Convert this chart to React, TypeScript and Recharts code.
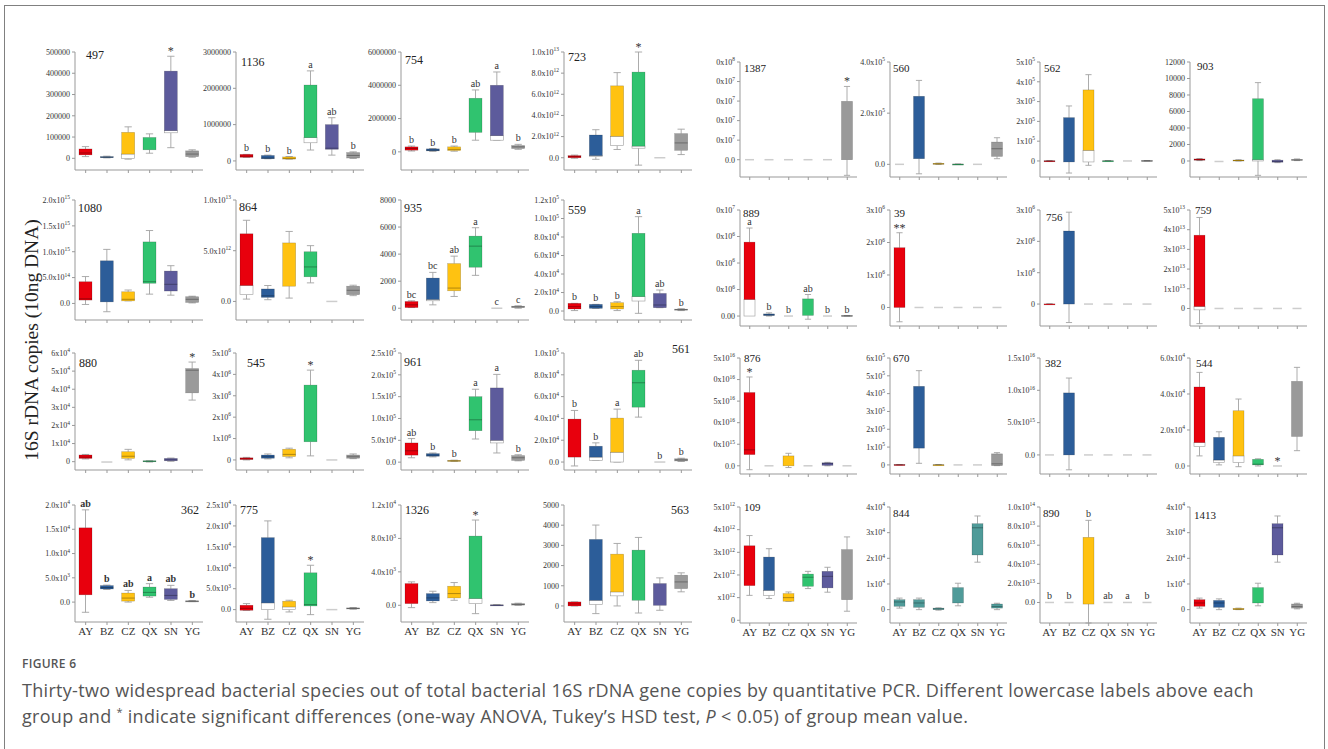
import React from 'react';
import { BarChart, Bar, XAxis, YAxis } from 'recharts';

const SERIF = '"Liberation Serif", "Times New Roman", serif';
const GROUPS = ['AY', 'BZ', 'CZ', 'QX', 'SN', 'YG'];
const GROUP_COLORS = ['#e8000d', '#2c5d99', '#ffc211', '#30c36f', '#5d5b9c', '#9a9a9a'];
const TEAL = '#4f9b99';
const Z = [0, 0, 0, 0, 0];

// each box: [min, q1, median, q3, max]; hollow = groups whose q1..median part is white
// ---- left block, row 1
const box497 = [[8e3, 16e3, 25e3, 44e3, 55e3], [2e3, 3e3, 5e3, 8e3, 1e4], [-4e3, -1e3, 2e4, 1.22e5, 1.48e5], [2.4e4, 4e4, 4e4, 9.8e4, 1.15e5], [5e4, 1.2e5, 1.3e5, 4.1e5, 4.8e5], [5e3, 8e3, 2e4, 3.5e4, 4e4]];
const sig497 = ['', '', '', '', '*', ''];
const ho497 = [2, 4];
const ax497 = { floor: -5.5e4, ticks: [0, 1e5, 2e5, 3e5, 4e5, 5e5], labels: ['0', '100000', '200000', '300000', '400000', '500000'] };

const box1136 = [[1e5, 1e5, 1.3e5, 1.8e5, 1.8e5], [6e4, 6e4, 8e4, 1.5e5, 1.6e5], [5e4, 5e4, 7e4, 1.1e5, 1.2e5], [3e5, 5e5, 6.4e5, 2.09e6, 2.48e6], [1.6e5, 3.2e5, 3.5e5, 1.0e6, 1.19e6], [7e4, 8e4, 1.5e5, 2.3e5, 2.5e5]];
const sig1136 = ['b', 'b', 'b', 'a', 'ab', 'b'];
const ho1136 = [3];
const ax1136 = { floor: -2.5e5, ticks: [0, 1e6, 2e6, 3e6], labels: ['0', '1000000', '2000000', '3000000'] };

const box754 = [[5e4, 1e5, 2e5, 3e5, 3.5e5], [3e4, 6e4, 1e5, 1.8e5, 2e5], [4e4, 8e4, 1.5e5, 3e5, 3.5e5], [7e5, 1.17e6, 1.17e6, 3.22e6, 3.72e6], [7e5, 7e5, 9.7e5, 4.0e6, 4.8e6], [1.5e5, 2e5, 3e5, 3.8e5, 4.5e5]];
const sig754 = ['b', 'b', 'b', 'ab', 'a', 'b'];
const ho754 = [4];
const ax754 = { floor: -1.09e6, ticks: [0, 2e6, 4e6, 6e6], labels: ['0', '2000000', '4000000', '6000000'] };

const box723 = [[-5e10, 0, 1e11, 2e11, 2.5e11], [-1.5e11, 1e11, 2e11, 2.15e12, 2.65e12], [7.8e11, 1.15e12, 2.03e12, 6.8e12, 8.05e12], [-7e11, 9e11, 1.1e12, 8.1e12, 1.0e13], Z, [3e11, 7e11, 1.4e12, 2.28e12, 2.7e12]];
const sig723 = ['', '', '', '*', '', ''];
const ho723 = [1, 2, 3];
const ax723 = { floor: -1.16e12, ticks: [0, 2e12, 4e12, 6e12, 8e12, 1e13], labels: ['0.0', '2.0x10^12', '4.0x10^12', '6.0x10^12', '8.0x10^12', '1.0x10^13'] };

// ---- right block, row 1
const box1387 = [Z, Z, Z, Z, Z, [-1.6e7, 0, 0, 5.97e7, 7.5e7]];
const sig1387 = ['', '', '', '', '', '*'];
const ho1387: number[] = [];
const ax1387 = { floor: -1.77e7, ticks: [0, 2e7, 4e7, 6e7, 8e7, 1e8], labels: ['0.0', '0x10^7', '0x10^7', '0x10^7', '0x10^7', '0x10^8'] };

const box560 = [Z, [-3.7e4, 2.2e4, 2.2e4, 2.66e5, 3.28e5], [0, 1e3, 2e3, 4e3, 5e3], [0, 0, 500, 1e3, 1e3], Z, [2.2e4, 3.1e4, 6.1e4, 8.7e4, 1.04e5]];
const sig560 = ['', '', '', '', '', ''];
const ho560: number[] = [];
const ax560 = { floor: -4.95e4, ticks: [0, 2e5, 4e5], labels: ['0.0', '2.0x10^5', '4.0x10^5'] };

const box562 = [[-2e3, -1e3, 0, 1e3, 2e3], [-6.1e4, -5e3, -5e3, 2.19e5, 2.78e5], [-2.2e4, -5e3, 5.4e4, 3.59e5, 4.36e5], [0, 0, 500, 1e3, 1e3], Z, [0, 0, 1e3, 2e3, 2e3]];
const sig562 = ['', '', '', '', '', ''];
const ho562 = [2];
const ax562 = { floor: -8.1e4, ticks: [0, 1e5, 2e5, 3e5, 4e5, 5e5], labels: ['0', '1x10^5', '2x10^5', '3x10^5', '4x10^5', '5x10^5'] };

const box903 = [[50, 100, 150, 250, 300], [-60, -60, -60, -60, -60], [0, 20, 50, 120, 150], [-1740, 0, 150, 7550, 9500], [-200, -150, -50, 100, 150], [50, 80, 120, 200, 250]];
const sig903 = ['', '', '', '', '', ''];
const ho903 = [3];
const ax903 = { floor: -1940, ticks: [0, 2000, 4000, 6000, 8000, 10000, 12000], labels: ['0', '2000', '4000', '6000', '8000', '10000', '12000'] };

// ---- left block, row 2
const box1080 = [[-2e13, 6.5e13, 9e13, 4.2e14, 5.2e14], [-1.6e14, 3e13, 3e13, 8.25e14, 1.045e15], [5e13, 5e13, 8e13, 2.26e14, 2.6e14], [1.8e14, 3.9e14, 4.2e14, 1.19e15, 1.41e15], [1.6e14, 2.4e14, 3.7e14, 6.26e14, 7.3e14], [1e13, 2e13, 8e13, 1.3e14, 1.4e14]];
const sig1080 = ['', '', '', '', '', ''];
const ho1080: number[] = [];
const ax1080 = { floor: -3.2e14, ticks: [0, 5e14, 1e15, 1.5e15, 2e15], labels: ['0.0', '5.0x10^14', '1.0x10^15', '1.5x10^15', '2.0x10^15'] };

const box864 = [[2.3e11, 6.7e11, 1.57e12, 6.67e12, 8.0e12], [1.7e11, 4e11, 5.5e11, 1.23e12, 1.57e12], [3.3e11, 1.5e12, 1.5e12, 5.77e12, 6.9e12], [1.83e12, 2.43e12, 3.4e12, 4.9e12, 5.5e12], Z, [5.7e11, 6.7e11, 1.1e12, 1.5e12, 1.6e12]];
const sig864 = ['', '', '', '', '', ''];
const ho864 = [0];
const ax864 = { floor: -1.83e12, ticks: [0, 5e12, 1e13], labels: ['0.0', '5.0x10^12', '1.0x10^13'] };

const box935 = [[50, 50, 250, 500, 550], [250, 550, 650, 2230, 2650], [870, 1290, 1490, 3300, 3850], [2430, 3030, 4590, 5330, 5950], Z, [0, 50, 100, 150, 180]];
const sig935 = ['bc', 'bc', 'ab', 'a', 'c', 'c'];
const ho935 = [1];
const ax935 = { floor: -870, ticks: [0, 2000, 4000, 6000, 8000], labels: ['0', '2000', '4000', '6000', '8000'] };

const box559 = [[500, 2200, 4700, 8300, 8300], [2900, 2900, 4700, 7200, 7200], [500, 2200, 4700, 9000, 1e4], [-2500, 1.08e4, 1.55e4, 8.4e4, 1.02e5], [3600, 3600, 6500, 1.9e4, 2.27e4], [500, 1000, 1500, 2000, 2500]];
const sig559 = ['b', 'b', 'b', 'a', 'ab', 'b'];
const ho559 = [3];
const ax559 = { floor: -9700, ticks: [0, 2e4, 4e4, 6e4, 8e4, 1e5, 1.2e5], labels: ['0.0', '2.0x10^4', '4.0x10^4', '6.0x10^4', '8.0x10^4', '1.0x10^5', '1.2x10^5'] };

// ---- right block, row 2
const box889 = [[3e5, 0, 1.56e6, 6.97e6, 8.3e6], [0, 5e4, 1e5, 2e5, 3e5], Z, [-3e5, 6e4, 6e4, 1.62e6, 2.03e6], Z, [0, 0, 2e4, 5e4, 5e4]];
const sig889 = ['a', 'b', 'b', 'ab', 'b', 'b'];
const ho889 = [0];
const ax889 = { floor: -9.4e5, ticks: [0, 2.5e6, 5e6, 7.5e6, 1e7], labels: ['0.00', '0x10^6', '0x10^6', '0x10^6', '0x10^7'] };

const box39 = [[-4.4e5, 0, 0, 1.84e6, 2.3e6], Z, Z, Z, Z, Z];
const sig39 = ['**', '', '', '', '', ''];
const ho39: number[] = [];
const ax39 = { floor: -5.7e5, ticks: [0, 1e6, 2e6, 3e6], labels: ['0', '1x10^6', '2x10^6', '3x10^6'] };

const box756 = [[0, 0, 0, 6e3, 6e3], [-5.9e5, 0, 0, 2.33e6, 2.93e6], Z, Z, Z, Z];
const sig756 = ['', '', '', '', '', ''];
const ho756: number[] = [];
const ax756 = { floor: -7e5, ticks: [0, 1e6, 2e6, 3e6], labels: ['0', '1x10^6', '2x10^6', '3x10^6'] };

const box759 = [[-7.7e12, -7e11, 1e12, 3.72e13, 4.62e13], Z, Z, Z, Z, Z];
const sig759 = ['', '', '', '', '', ''];
const ho759 = [0];
const ax759 = { floor: -8.9e12, ticks: [0, 1e13, 2e13, 3e13, 4e13, 5e13], labels: ['0', '1x10^13', '2x10^13', '3x10^13', '4x10^13', '5x10^13'] };

// ---- left block, row 3
const box880 = [[1.5e3, 1.8e3, 2.5e3, 3.7e3, 4e3], [-200, -200, -200, -200, -200], [1e3, 1.8e3, 3e3, 5.5e3, 6.8e3], [-200, 0, 200, 500, 500], [200, 500, 1e3, 1.8e3, 2e3], [3.4e4, 3.8e4, 5.05e4, 5.14e4, 5.5e4]];
const sig880 = ['', '', '', '', '', '*'];
const ho880: number[] = [];
const ax880 = { floor: -4600, ticks: [0, 1e4, 2e4, 3e4, 4e4, 5e4, 6e4], labels: ['0', '1x10^4', '2x10^4', '3x10^4', '4x10^4', '5x10^4', '6x10^4'] };

const box545 = [[0, 2e4, 5e4, 1e5, 1.2e5], [5e4, 8e4, 1.5e5, 2.3e5, 2.8e5], [1e5, 1.6e5, 2.6e5, 5e5, 5.5e5], [1.9e5, 8.5e5, 8.5e5, 3.5e6, 4.2e6], Z, [6e4, 8e4, 1.5e5, 2.3e5, 2.8e5]];
const sig545 = ['', '', '', '*', '', ''];
const ho545: number[] = [];
const ax545 = { floor: -4.7e5, ticks: [0, 1e6, 2e6, 3e6, 4e6, 5e6], labels: ['0', '1x10^6', '2x10^6', '3x10^6', '4x10^6', '5x10^6'] };

const box961 = [[1e4, 1.6e4, 2.6e4, 4.4e4, 5.4e4], [1.2e4, 1.35e4, 1.6e4, 1.95e4, 2.1e4], [2e3, 2.5e3, 3e3, 4e3, 4.5e3], [5.3e4, 7.2e4, 9.7e4, 1.5e5, 1.67e5], [2.1e4, 4.4e4, 5e4, 1.7e5, 2.01e5], [3e3, 4e3, 1e4, 1.5e4, 1.7e4]];
const sig961 = ['ab', 'b', 'b', 'a', 'a', 'b'];
const ho961 = [4];
const ax961 = { floor: -1.8e4, ticks: [0, 5e4, 1e5, 1.5e5, 2e5, 2.5e5], labels: ['0.0', '5.0x10^4', '1.0x10^5', '1.5x10^5', '2.0x10^5', '2.5x10^5'] };

const box561 = [[-3.6e3, 4.5e3, 4.5e3, 3.94e4, 4.73e4], [1.5e3, 1.5e3, 4.5e3, 1.45e4, 1.76e4], [0, 0, 9e3, 4.03e4, 4.85e4], [4.12e4, 5.03e4, 7.27e4, 8.42e4, 9.33e4], Z, [500, 1e3, 2e3, 3e3, 3.5e3]];
const sig561 = ['b', 'b', 'a', 'ab', 'b', 'b'];
const ho561 = [1, 2];
const ax561 = { floor: -7.3e3, ticks: [0, 2e4, 4e4, 6e4, 8e4, 1e5], labels: ['0.0', '2.0x10^4', '4.0x10^4', '6.0x10^4', '8.0x10^4', '1.0x10^5'] };

// ---- right block, row 3
const box876 = [[-9e14, 2.6e15, 3.7e15, 1.7e16, 2.06e16], Z, [-4e14, 0, 0, 2.3e15, 2.9e15], Z, [0, 1e14, 5e14, 7e14, 8e14], Z];
const sig876 = ['*', '', '', '', '', ''];
const ho876: number[] = [];
const ax876 = { floor: -1.9e15, ticks: [0, 5e15, 1e16, 1.5e16, 2e16, 2.5e16], labels: ['0.0', '0x10^15', '0x10^16', '5x10^16', '0x10^16', '5x10^16'] };

const box670 = [[0, 0, 1e3, 2e3, 2e3], [9e3, 9.4e4, 9.4e4, 4.41e5, 5.29e5], [0, 0, 500, 1e3, 1e3], Z, Z, [-4e3, -4e3, 6e3, 6.2e4, 6.9e4]];
const sig670 = ['', '', '', '', '', ''];
const ho670: number[] = [];
const ax670 = { floor: -5.1e4, ticks: [0, 1e5, 2e5, 3e5, 4e5, 5e5, 6e5], labels: ['0', '1x10^5', '2x10^5', '3x10^5', '4x10^5', '5x10^5', '6x10^5'] };

const box382 = [Z, [-2.3e15, 0, 0, 9.6e15, 1.19e16], Z, Z, Z, Z];
const sig382 = ['', '', '', '', '', ''];
const ho382: number[] = [];
const ax382 = { floor: -2.95e15, ticks: [0, 5e15, 1e16, 1.5e16], labels: ['0.0', '5.0x10^15', '1.0x10^16', '1.5x10^16'] };

const box544 = [[5.6e3, 1.08e4, 1.3e4, 4.39e4, 5.2e4], [600, 2e3, 3.3e3, 1.59e4, 1.9e4], [-400, 2e3, 5.6e3, 3.07e4, 3.72e4], [0, 600, 1e3, 3.7e3, 4e3], Z, [8.5e3, 1.64e4, 1.64e4, 4.7e4, 5.48e4]];
const sig544 = ['', '', '', '', '*', ''];
const ho544 = [0, 1, 2];
const ax544 = { floor: -4460, ticks: [0, 2e4, 4e4, 6e4], labels: ['0.0', '2.0x10^4', '4.0x10^4', '6.0x10^4'] };

// ---- left block, row 4
const box362 = [[-2.1e3, 1.5e3, 1.5e3, 1.53e4, 1.9e4], [2.6e3, 2.7e3, 3.0e3, 3.4e3, 3.5e3], [0, 200, 830, 1860, 2400], [1e3, 1.24e3, 2e3, 3.1e3, 3.8e3], [340, 550, 1380, 2760, 3450], [100, 150, 200, 250, 300]];
const sig362 = ['ab', 'b', 'ab', 'a', 'ab', 'b'];
const ho362: number[] = [];
const ax362 = { floor: -4100, ticks: [0, 5e3, 1e4, 1.5e4, 2e4], labels: ['0.0', '5.0x10^3', '1.0x10^4', '1.5x10^4', '2.0x10^4'] };

const box775 = [[-160, -160, 300, 1040, 1440], [-2.3e3, 0, 1.6e3, 1.72e4, 2.12e4], [-560, 0, 640, 2000, 2240], [-1.2e3, 880, 1200, 8800, 1.06e4], Z, [100, 200, 300, 400, 500]];
const sig775 = ['', '', '', '*', '', ''];
const ho775 = [1, 2];
const ax775 = { floor: -2960, ticks: [0, 5e3, 1e4, 1.5e4, 2e4, 2.5e4], labels: ['0.0', '5.0x10^3', '1.0x10^4', '1.5x10^4', '2.0x10^4', '2.5x10^4'] };

const box1326 = [[-280, 200, 200, 2600, 2800], [320, 520, 880, 1400, 1680], [600, 880, 1400, 2280, 2720], [-1000, 200, 800, 8280, 1.02e4], [0, 0, 30, 50, 50], [0, 20, 100, 200, 250]];
const sig1326 = ['', '', '', '*', '', ''];
const ho1326 = [3];
const ax1326 = { floor: -2000, ticks: [0, 4e3, 8e3, 1.2e4], labels: ['0.0', '4.0x10^3', '8.0x10^3', '1.2x10^4'] };

const box563 = [[0, 0, 100, 200, 200], [-380, 80, 280, 3295, 4006], [0, 500, 695, 2565, 3096], [-350, 280, 280, 2765, 3394], [-215, 30, 30, 1110, 1390], [700, 860, 1190, 1523, 1640]];
const sig563 = ['', '', '', '', '', ''];
const ho563 = [1, 2];
const ax563 = { floor: -795, ticks: [0, 1000, 2000, 3000, 4000, 5000], labels: ['0', '1000', '2000', '3000', '4000', '5000'] };

// ---- right block, row 4
const box109 = [[1.1e12, 1.53e12, 1.53e12, 3.29e12, 3.74e12], [9.6e11, 1.1e12, 1.32e12, 2.79e12, 3.16e12], [8.4e11, 8.4e11, 1.0e12, 1.18e12, 1.25e12], [1.4e12, 1.5e12, 1.9e12, 2.04e12, 2.16e12], [1.24e12, 1.43e12, 1.94e12, 2.16e12, 2.34e12], [4e11, 9.1e11, 9.1e11, 3.12e12, 3.68e12]];
const sig109 = ['', '', '', '', '', ''];
const ho109 = [1];
const ax109 = { floor: -1.2e11, ticks: [0, 1e12, 2e12, 3e12, 4e12, 5e12], labels: ['0', 'x10^12', '2x10^12', '3x10^12', '4x10^12', '5x10^12'] };

const box844 = [[600, 1300, 3000, 3900, 4500], [0, 900, 2600, 3900, 4500], [-200, 0, 300, 600, 700], [1500, 2600, 2600, 8600, 1.03e4], [1.85e4, 2.13e4, 3.19e4, 3.35e4, 3.65e4], [0, 600, 1200, 2200, 2500]];
const sig844 = ['', '', '', '', '', ''];
const ho844: number[] = [];
const ax844 = { floor: -5200, ticks: [0, 1e4, 2e4, 3e4, 4e4], labels: ['0', '1x10^4', '2x10^4', '3x10^4', '4x10^4'] };

const box890 = [Z, Z, [-2.15e13, -1.7e12, -1.7e12, 6.82e13, 8.6e13], Z, Z, Z];
const sig890 = ['b', 'b', 'b', 'ab', 'a', 'b'];
const ho890: number[] = [];
const ax890 = { floor: -2.15e13, ticks: [0, 2e13, 4e13, 6e13, 8e13, 1e14], labels: ['0.0', '2.0x10^13', '4.0x10^13', '6.0x10^13', '8.0x10^13', '1.0x10^14'] };

const box1413 = [[600, 1300, 2600, 3900, 4500], [0, 900, 2600, 3600, 4200], [0, 0, 200, 500, 600], [1500, 2600, 2600, 8600, 1.03e4], [1.85e4, 2.13e4, 3.19e4, 3.35e4, 3.65e4], [300, 600, 1200, 2200, 2500]];
const sig1413 = ['', '', '', '', '', ''];
const ho1413: number[] = [];
const ax1413 = { floor: -5200, ticks: [0, 1e4, 2e4, 3e4, 4e4], labels: ['0', '1x10^4', '2x10^4', '3x10^4', '4x10^4'] };

const PANELS: Record<string, any> = {
  '497': { box: box497, sig: sig497, hollow: ho497, ax: ax497 },
  '1136': { box: box1136, sig: sig1136, hollow: ho1136, ax: ax1136 },
  '754': { box: box754, sig: sig754, hollow: ho754, ax: ax754 },
  '723': { box: box723, sig: sig723, hollow: ho723, ax: ax723 },
  '1387': { box: box1387, sig: sig1387, hollow: ho1387, ax: ax1387 },
  '560': { box: box560, sig: sig560, hollow: ho560, ax: ax560 },
  '562': { box: box562, sig: sig562, hollow: ho562, ax: ax562 },
  '903': { box: box903, sig: sig903, hollow: ho903, ax: ax903 },
  '1080': { box: box1080, sig: sig1080, hollow: ho1080, ax: ax1080 },
  '864': { box: box864, sig: sig864, hollow: ho864, ax: ax864 },
  '935': { box: box935, sig: sig935, hollow: ho935, ax: ax935 },
  '559': { box: box559, sig: sig559, hollow: ho559, ax: ax559 },
  '889': { box: box889, sig: sig889, hollow: ho889, ax: ax889 },
  '39': { box: box39, sig: sig39, hollow: ho39, ax: ax39 },
  '756': { box: box756, sig: sig756, hollow: ho756, ax: ax756 },
  '759': { box: box759, sig: sig759, hollow: ho759, ax: ax759 },
  '880': { box: box880, sig: sig880, hollow: ho880, ax: ax880 },
  '545': { box: box545, sig: sig545, hollow: ho545, ax: ax545 },
  '961': { box: box961, sig: sig961, hollow: ho961, ax: ax961 },
  '561': { box: box561, sig: sig561, hollow: ho561, ax: ax561 },
  '876': { box: box876, sig: sig876, hollow: ho876, ax: ax876 },
  '670': { box: box670, sig: sig670, hollow: ho670, ax: ax670 },
  '382': { box: box382, sig: sig382, hollow: ho382, ax: ax382 },
  '544': { box: box544, sig: sig544, hollow: ho544, ax: ax544 },
  '362': { box: box362, sig: sig362, hollow: ho362, ax: ax362, bold: true },
  '775': { box: box775, sig: sig775, hollow: ho775, ax: ax775 },
  '1326': { box: box1326, sig: sig1326, hollow: ho1326, ax: ax1326 },
  '563': { box: box563, sig: sig563, hollow: ho563, ax: ax563 },
  '109': { box: box109, sig: sig109, hollow: ho109, ax: ax109 },
  '844': { box: box844, sig: sig844, hollow: ho844, ax: ax844, colors: GROUPS.map(() => TEAL) },
  '890': { box: box890, sig: sig890, hollow: ho890, ax: ax890 },
  '1413': { box: box1413, sig: sig1413, hollow: ho1413, ax: ax1413 },
};

// layout
const GRID_L = [['497', '1136', '754', '723'], ['1080', '864', '935', '559'], ['880', '545', '961', '561'], ['362', '775', '1326', '563']];
const GRID_R = [['1387', '560', '562', '903'], ['889', '39', '756', '759'], ['876', '670', '382', '544'], ['109', '844', '890', '1413']];
const LEFT_X = [75, 236, 401, 564];
const RIGHT_X = [740, 890, 1040, 1190];
const ROWS_L = [[52, 170], [200, 320], [353, 470], [505, 622]];
const ROWS_R = [[62, 177], [210, 326], [358, 474], [507, 623]];
// [dx from axis (negative = from right edge), dy of label centre from plot top]
const ID_POS: Record<string, number[]> = {
  '497': [11, 3], '1136': [5, 10], '754': [4, 8], '723': [4, 5],
  '1387': [4, 6], '560': [3, 6], '562': [4, 6], '903': [7, 4],
  '1080': [3, 8], '864': [3, 7], '935': [3, 8], '559': [4, 10],
  '889': [3, 3], '39': [4, 3], '756': [6, 7], '759': [5, 0],
  '880': [4, 10], '545': [11, 10], '961': [3, 9], '561': [-2, -4],
  '876': [4, 0], '670': [3, 0], '382': [5, 5], '544': [6, 5],
  '362': [-4, 5], '775': [4, 5], '1326': [4, 5], '563': [-3, 5],
  '109': [4, 0], '844': [3, 6], '890': [3, 6], '1413': [4, 8],
};

const SupText = ({ x, y, s, size = 8 }: any) => {
  const [b, e] = String(s).split('^');
  return (
    <text x={x} y={y} dy="0.35em" textAnchor="end" fontFamily={SERIF} fontSize={size} fill="#333">
      <tspan>{b}</tspan>
      {e ? <tspan dy={-3.5} fontSize={size * 0.68}>{e}</tspan> : null}
    </text>
  );
};

const YTick = (props: any) => {
  const { x, y, payload, ax } = props;
  let i = ax.ticks.indexOf(payload.value);
  if (i < 0) {
    let best = Infinity;
    ax.ticks.forEach((t: number, j: number) => {
      const d = Math.abs(t - payload.value);
      if (d < best) { best = d; i = j; }
    });
  }
  return <SupText x={x} y={y} s={ax.labels[i]} />;
};

const BoxShape = (props: any) => {
  const { x, y, width, height, payload } = props;
  if (x == null || y == null || !payload) return null;
  const [mn, q1, md, q3, mx] = payload.box;
  const lo = Math.min(...payload.box);
  const hi = Math.max(...payload.box);
  const top = Math.min(y, y + (height || 0));
  const h = Math.abs(height || 0);
  const cx = x + width / 2;
  const sig = payload.sig;
  const star = sig && sig.includes('*');
  const sigEl = sig ? (
    <text x={cx} y={star ? top - 1 : top - 3} textAnchor="middle" fontSize={star ? 12 : 10}
      fontWeight={payload.bold ? 700 : 400} fontFamily={SERIF} fill="#333">{sig}</text>
  ) : null;
  if (hi === lo) {
    return (
      <g>
        <line x1={x + 1} x2={x + width - 1} y1={top} y2={top} stroke="#cdcdcd" strokeWidth={1.5} />
        {sigEl}
      </g>
    );
  }
  const k = h / (hi - lo);
  const py = (v: number) => top + (hi - v) * k;
  const cap = width * 0.28;
  const wc = '#a3a3a3';
  const c = payload.color;
  const yq3 = py(q3);
  const ymd = py(md);
  const yq1 = py(q1);
  return (
    <g>
      <line x1={cx} x2={cx} y1={py(mx)} y2={yq3} stroke={wc} strokeWidth={0.9} />
      <line x1={cx} x2={cx} y1={yq1} y2={py(mn)} stroke={wc} strokeWidth={0.9} />
      <line x1={cx - cap} x2={cx + cap} y1={py(mx)} y2={py(mx)} stroke={wc} strokeWidth={0.9} />
      <line x1={cx - cap} x2={cx + cap} y1={py(mn)} y2={py(mn)} stroke={wc} strokeWidth={0.9} />
      {payload.hollow ? (
        <>
          <rect x={x} y={ymd} width={width} height={Math.max(yq1 - ymd, 0)} fill="#fff" stroke="#9c9c9c" strokeWidth={0.6} />
          <rect x={x} y={yq3} width={width} height={Math.max(ymd - yq3, 1)} fill={c} stroke="rgba(0,0,0,0.25)" strokeWidth={0.6} />
        </>
      ) : (
        <>
          <rect x={x} y={yq3} width={width} height={Math.max(yq1 - yq3, 1)} fill={c} stroke="rgba(0,0,0,0.25)" strokeWidth={0.6} />
          {md > q1 && md < q3 ? <line x1={x} x2={x + width} y1={ymd} y2={ymd} stroke="rgba(0,0,0,0.35)" strokeWidth={0.9} /> : null}
        </>
      )}
      {sigEl}
    </g>
  );
};

const YW = 60;
const MT = 16;
const XH = 24;
const MR = 6;

const Panel = ({ id, axisX, plotW, top, bottom, showX, idSize, barSize }: any) => {
  const p = PANELS[id];
  const data = GROUPS.map((g, i) => {
    const b = p.box[i];
    return {
      g,
      range: [Math.min(...b), Math.max(...b)],
      box: b,
      sig: p.sig[i],
      hollow: p.hollow.includes(i),
      color: p.colors ? p.colors[i] : GROUP_COLORS[i],
      bold: !!p.bold,
    };
  });
  const [dx, dy] = ID_POS[id];
  const idStyle: React.CSSProperties = {
    position: 'absolute',
    top: MT + dy,
    transform: 'translateY(-50%)',
    fontFamily: SERIF,
    fontSize: idSize,
    lineHeight: 1,
    color: '#222',
    whiteSpace: 'nowrap',
  };
  if (dx < 0) idStyle.right = MR - dx; else idStyle.left = YW + dx;
  return (
    <div style={{ position: 'absolute', left: axisX - YW, top: top - MT, width: YW + plotW + MR, height: MT + (bottom - top) + XH }}>
      <BarChart width={YW + plotW + MR} height={MT + (bottom - top) + XH} data={data}
        margin={{ top: MT, right: MR, left: 0, bottom: 0 }}>
        <XAxis dataKey="g" height={XH} interval={0} tickSize={3} tickMargin={2}
          axisLine={{ stroke: '#999' }} tickLine={{ stroke: '#999' }}
          tick={{ fontSize: 11, fill: '#333', fontFamily: SERIF }}
          tickFormatter={showX ? undefined : () => ''} />
        <YAxis width={YW} type="number" domain={[p.ax.floor, p.ax.ticks[p.ax.ticks.length - 1]]}
          ticks={p.ax.ticks} interval={0} tickSize={3} tickMargin={2}
          axisLine={{ stroke: '#999' }} tickLine={{ stroke: '#999' }}
          tick={(t: any) => <YTick {...t} ax={p.ax} />} />
        <Bar dataKey="range" barSize={barSize} shape={BoxShape} isAnimationActive={false} />
      </BarChart>
      <div style={idStyle}>{id}</div>
    </div>
  );
};

export default function App() {
  return (
    <div style={{ position: 'absolute', left: 0, top: 0, width: 1328, height: 749, background: '#fff', overflow: 'hidden' }}>
      <div style={{ position: 'absolute', left: 4, top: 5, width: 1319, height: 800, border: '1px solid #808080' }} />
      {GRID_L.map((row, r) => row.map((id, c) => (
        <Panel key={id} id={id} axisX={LEFT_X[c]} plotW={128} top={ROWS_L[r][0]} bottom={ROWS_L[r][1]}
          showX={r === 3} idSize={12} barSize={13} />
      )))}
      {GRID_R.map((row, r) => row.map((id, c) => (
        <Panel key={id} id={id} axisX={RIGHT_X[c]} plotW={117} top={ROWS_R[r][0]} bottom={ROWS_R[r][1]}
          showX={r === 3} idSize={11} barSize={11} />
      )))}
      <div style={{
        position: 'absolute', left: 32, top: 340, transform: 'translate(-50%, -50%) rotate(-90deg)',
        fontFamily: SERIF, fontSize: 19.5, color: '#222', whiteSpace: 'nowrap',
      }}>
        16S rDNA copies (10ng DNA)
      </div>
      <div style={{
        position: 'absolute', left: 22, top: 655, fontFamily: '"Open Sans", sans-serif', fontSize: 12,
        fontWeight: 600, color: '#555', letterSpacing: 0.3,
      }}>
        FIGURE 6
      </div>
      <div style={{
        position: 'absolute', left: 22, top: 677, fontFamily: '"Open Sans", sans-serif', fontSize: 18,
        lineHeight: '26px', color: '#555', whiteSpace: 'nowrap', letterSpacing: 0.3,
      }}>
        <div style={{ height: 26 }}>Thirty-two widespread bacterial species out of total bacterial 16S rDNA gene copies by quantitative PCR. Different lowercase labels above each</div>
        <div style={{ height: 26 }}>group and <sup style={{ fontSize: 11, lineHeight: 0 }}>*</sup> indicate significant differences (one-way ANOVA, Tukey’s HSD test, <i>P</i> &lt; 0.05) of group mean value.</div>
      </div>
    </div>
  );
}
